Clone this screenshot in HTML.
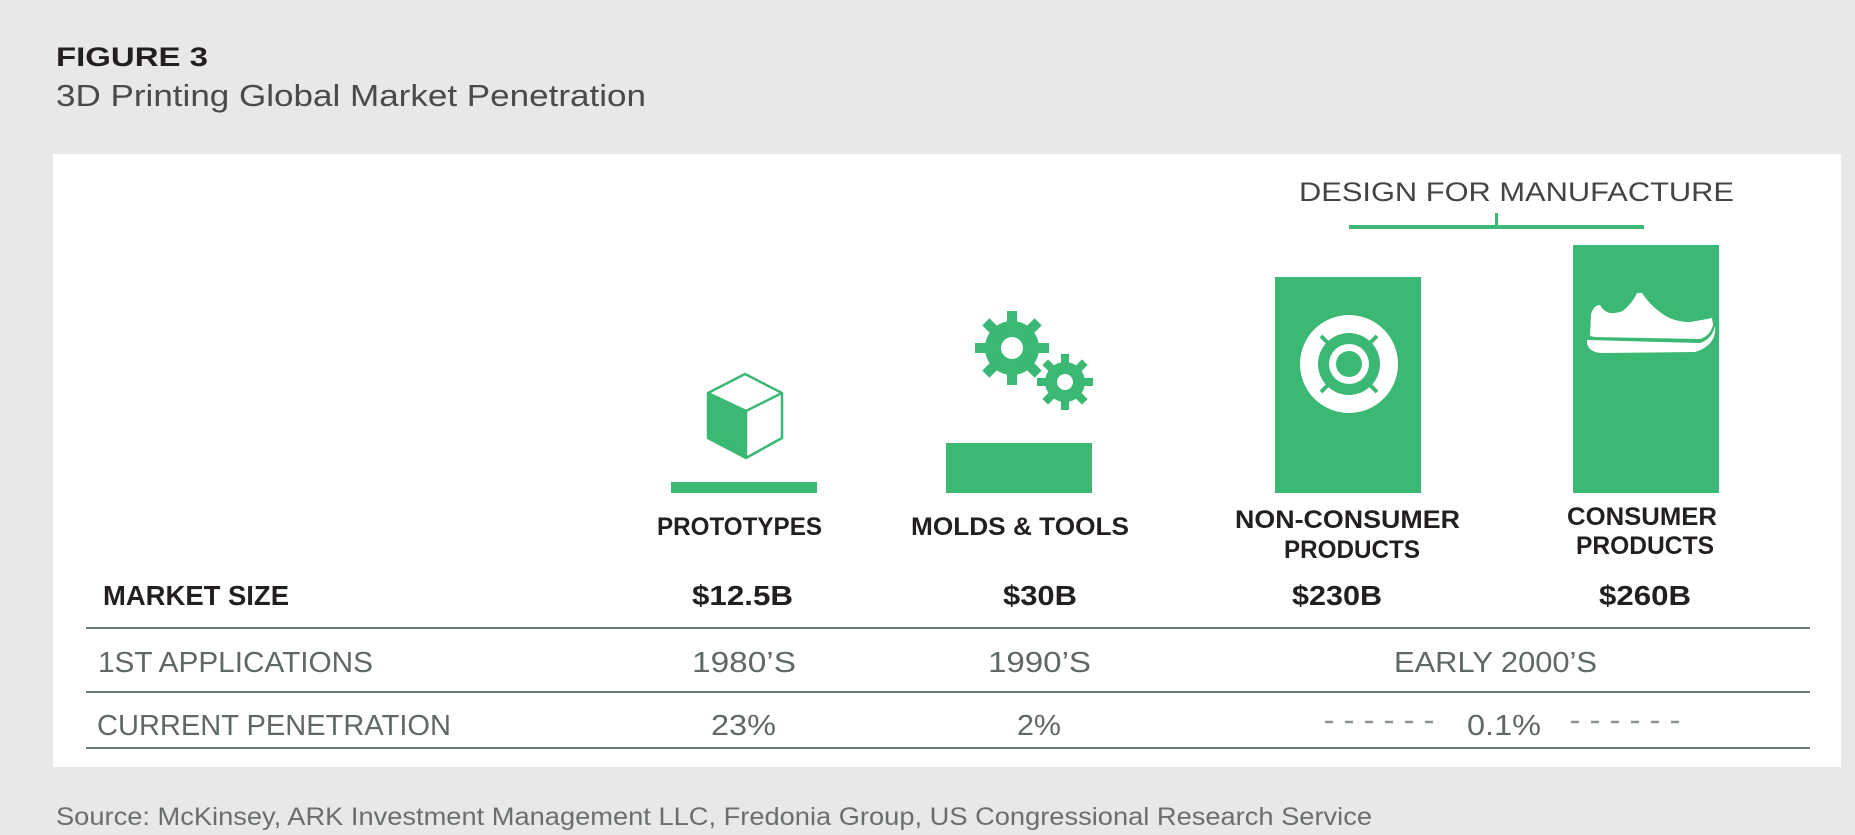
<!DOCTYPE html>
<html><head><meta charset="utf-8"><style>
html,body{margin:0;padding:0;background:#e8e8e8;}
svg{display:block}
text{font-family:"Liberation Sans",sans-serif;}
.b{font-weight:bold;fill:#231f20;}
.l{fill:#5f6864;}
</style></head><body>
<svg width="1855" height="835" viewBox="0 0 1855 835" xmlns="http://www.w3.org/2000/svg">
<rect width="1855" height="835" fill="#e8e8e8"/>
<text x="56" y="66" class="b" font-size="27" textLength="152" lengthAdjust="spacingAndGlyphs">FIGURE 3</text>
<text x="56" y="106" fill="#4a4a4a" font-size="31" textLength="590" lengthAdjust="spacingAndGlyphs">3D Printing Global Market Penetration</text>
<rect x="53" y="154" width="1788" height="613" fill="#fff"/>

<text x="1299" y="201" fill="#444" font-size="27" textLength="435" lengthAdjust="spacingAndGlyphs">DESIGN FOR MANUFACTURE</text>
<rect x="1349" y="225" width="295" height="4" fill="#3bb873"/>
<rect x="1495" y="213" width="3" height="13" fill="#3bb873"/>

<g fill="#3bb873">
<rect x="671" y="482" width="146" height="11"/>
<rect x="946" y="443" width="146" height="50"/>
<rect x="1275" y="277" width="146" height="216"/>
<rect x="1573" y="245" width="146" height="248"/>
</g>

<!-- cube -->
<polygon points="708,393 746,411 746,458 708,438" fill="#3bb873"/>
<polygon points="745,374 782,393 782,438 746,458 708,438 708,393" fill="none" stroke="#3bb873" stroke-width="2.5" stroke-linejoin="round"/>
<polyline points="708,393 746,411 782,393" fill="none" stroke="#3bb873" stroke-width="2.5"/>
<line x1="746" y1="411" x2="746" y2="458" stroke="#3bb873" stroke-width="2.5"/>

<!-- gears -->
<g fill="#3bb873">
<g transform="translate(1012,348)">
<circle r="27"/>
<rect x="-5" y="-37" width="10" height="74"/>
<rect x="-5" y="-37" width="10" height="74" transform="rotate(45)"/>
<rect x="-5" y="-37" width="10" height="74" transform="rotate(90)"/>
<rect x="-5" y="-37" width="10" height="74" transform="rotate(135)"/>
<circle r="11" fill="#fff"/>
</g>
<g transform="translate(1065,382)">
<circle r="20"/>
<rect x="-4" y="-28" width="8" height="56"/>
<rect x="-4" y="-28" width="8" height="56" transform="rotate(45)"/>
<rect x="-4" y="-28" width="8" height="56" transform="rotate(90)"/>
<rect x="-4" y="-28" width="8" height="56" transform="rotate(135)"/>
<circle r="8" fill="#fff"/>
</g>
</g>

<!-- target icon -->
<g transform="translate(1349,364)">
<circle r="49" fill="#fff"/>
<circle r="31" fill="#3bb873"/>
<circle r="20" fill="#fff"/>
<circle r="13" fill="#3bb873"/>
<g stroke="#3bb873" stroke-width="4">
<line x1="20" y1="-20" x2="28" y2="-28"/>
<line x1="-20" y1="-20" x2="-28" y2="-28"/>
<line x1="20" y1="20" x2="28" y2="28"/>
<line x1="-20" y1="20" x2="-28" y2="28"/>
</g>
</g>

<!-- shoe -->
<path d="M1590,336 L1591,314 Q1594,305 1600,305 Q1604,312 1610,313 Q1622,314 1628,306 Q1634,300 1637,293 L1642,293 Q1650,305 1660,312 Q1672,322 1690,322 Q1702,320 1712,318 L1713,325 Q1710,336 1700,339 L1595,337 Z" fill="#fff"/>
<path d="M1588,340 L1700,343 Q1712,339 1715,326 Q1717,345 1695,352 L1600,353 Q1586,351 1587,340 Z" fill="#fff"/>

<!-- labels -->
<g class="b" font-size="25">
<text x="657" y="535" textLength="165" lengthAdjust="spacingAndGlyphs">PROTOTYPES</text>
<text x="911" y="535" textLength="218" lengthAdjust="spacingAndGlyphs">MOLDS &amp; TOOLS</text>
<text x="1235" y="528" textLength="225" lengthAdjust="spacingAndGlyphs">NON-CONSUMER</text>
<text x="1284" y="558" textLength="136" lengthAdjust="spacingAndGlyphs">PRODUCTS</text>
<text x="1567" y="525" textLength="150" lengthAdjust="spacingAndGlyphs">CONSUMER</text>
<text x="1576" y="554" textLength="138" lengthAdjust="spacingAndGlyphs">PRODUCTS</text>
</g>
<g class="b" font-size="28">
<text x="103" y="605" textLength="186" lengthAdjust="spacingAndGlyphs">MARKET SIZE</text>
<text x="692" y="605" textLength="101" lengthAdjust="spacingAndGlyphs">$12.5B</text>
<text x="1003" y="605" textLength="74" lengthAdjust="spacingAndGlyphs">$30B</text>
<text x="1292" y="605" textLength="90" lengthAdjust="spacingAndGlyphs">$230B</text>
<text x="1599" y="605" textLength="92" lengthAdjust="spacingAndGlyphs">$260B</text>
</g>

<g fill="#6f7a75">
<rect x="86" y="627" width="1724" height="2"/>
<rect x="86" y="691" width="1724" height="2"/>
<rect x="86" y="747" width="1724" height="2"/>
</g>

<g class="l" font-size="29">
<text x="98" y="672" textLength="275" lengthAdjust="spacingAndGlyphs">1ST APPLICATIONS</text>
<text x="692" y="672" textLength="104" lengthAdjust="spacingAndGlyphs">1980’S</text>
<text x="988" y="672" textLength="103" lengthAdjust="spacingAndGlyphs">1990’S</text>
<text x="1394" y="672" textLength="203" lengthAdjust="spacingAndGlyphs">EARLY 2000’S</text>
<text x="97" y="735" textLength="354" lengthAdjust="spacingAndGlyphs">CURRENT PENETRATION</text>
<text x="711" y="735" textLength="65" lengthAdjust="spacingAndGlyphs">23%</text>
<text x="1017" y="735" textLength="44" lengthAdjust="spacingAndGlyphs">2%</text>
<text x="1467" y="735" textLength="74" lengthAdjust="spacingAndGlyphs">0.1%</text>
</g>
<g stroke="#8a928f" stroke-width="2.5" stroke-dasharray="8,12">
<line x1="1325" y1="722" x2="1445" y2="722"/>
<line x1="1571" y1="722" x2="1691" y2="722"/>
</g>

<text x="56" y="825" fill="#6a6f6d" font-size="25" textLength="1316" lengthAdjust="spacingAndGlyphs">Source: McKinsey, ARK Investment Management LLC, Fredonia Group, US Congressional Research Service</text>
</svg>
</body></html>
